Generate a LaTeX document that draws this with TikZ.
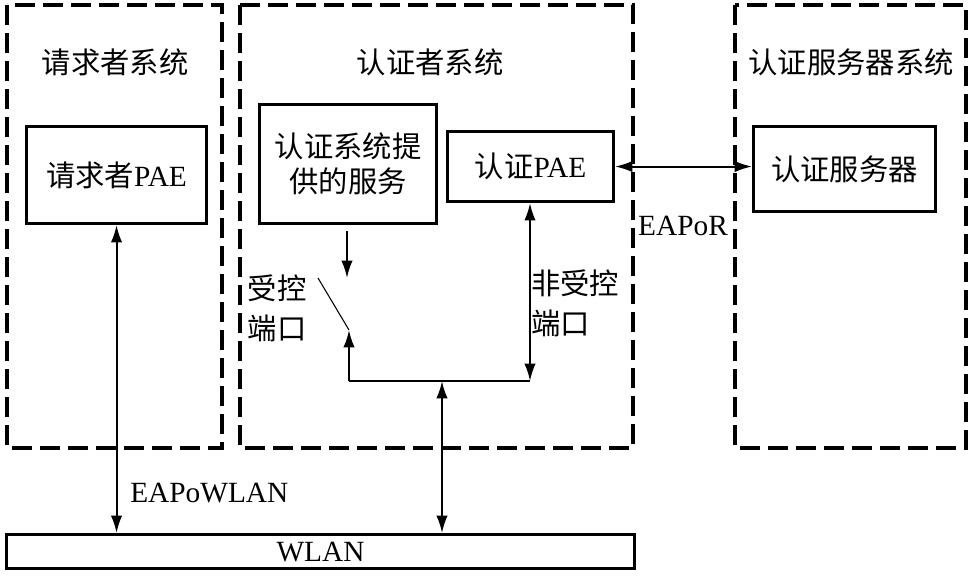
\documentclass[tikz,border=0pt]{standalone}
\usepackage{fontspec}
\setmainfont{Liberation Serif}
\newfontfamily\cjk{Noto Sans CJK SC}
\usetikzlibrary{arrows.meta}
\begin{document}
\begin{tikzpicture}[x=0.75pt,y=-0.75pt,
  dbox/.style={draw,line width=2.3pt,dash pattern=on 15pt off 6pt},
  sbox/.style={draw,line width=2.3pt,inner sep=0pt,anchor=north west},
  txt/.style={font=\fontsize{22}{28}\selectfont,inner sep=0pt,align=center},
  con/.style={line width=1.5pt},
  tip/.style={-{Latex[length=13pt,width=8.5pt]}},
  tips/.style={{Latex[length=13pt,width=8.5pt]}-{Latex[length=13pt,width=8.5pt]}}]
\useasboundingbox (0,0) rectangle (972,576);
% dashed system boxes
\draw[dbox] (7,5) rectangle (222,448);
\draw[dbox] (240,5) rectangle (633,448);
\draw[dbox] (735,5) rectangle (966,448);
\node[txt] (t1) at (115,62) {\cjk 请求者系统};
\node[txt] (t2) at (430,62) {\cjk 认证者系统};
\node[txt] (t3) at (851,62) {\cjk 认证服务器系统};
% boxes
\node[sbox,minimum width=180*0.75pt,minimum height=97*0.75pt] (sup) at (25,125) {};
\node[txt] at (sup.center) {{\cjk 请求者}PAE};
\node[sbox,minimum width=177*0.75pt,minimum height=119*0.75pt] (svc) at (258,103) {};
\node[txt] at (svc.center) {\cjk 认证系统提\\[-2pt]\cjk 供的服务};
\node[sbox,minimum width=166*0.75pt,minimum height=70*0.75pt] (pae) at (446,130) {};
\node[txt] at (pae.center) {{\cjk 认证}PAE};
\node[sbox,minimum width=182*0.75pt,minimum height=85*0.75pt] (srv) at (752,125) {};
\node[txt] at (srv.center) {\cjk 认证服务器};
\node[sbox,minimum width=628*0.75pt,minimum height=34*0.75pt] (wlan) at (5,533) {};
\node[txt] at (wlan.center) {WLAN};
% coordinates
\coordinate (c1) at (347,278);
\coordinate (sw) at (349,330);
\coordinate (sb) at (318,278);
\coordinate (j1) at (349,381);
\coordinate (j2) at (530,381);
\coordinate (j3) at (442,381);
% connectors
\draw[con,tips] (pae.east) -- (srv.west |- pae.east);
\node[txt,anchor=south] (eapor) at (683,236) {EAPoR};
\draw[con,tip] (svc.south -| c1) ++(0,6) -- (c1);
\draw[con,tip] (j1) -- (sw);
\draw[line width=0.8pt] (sb) -- (sw);
\draw[con] (j1) -- (j2);
\draw[con,tips] (j2) -- (pae.south -| j2);
\draw[con,tips] (j3) -- (wlan.north -| j3);
\draw[con,tips] (sup.south) -- (wlan.north -| sup.south);
\node[txt,align=left] (ctl) at (277,308) {\cjk 受控\\[2pt]\cjk 端口};
\node[txt,align=left] (uctl) at (575,303) {\cjk 非受控\\[2pt]\cjk 端口};
\node[txt,anchor=west] (eapw) at (130,493) {EAPoWLAN};
\end{tikzpicture}
\end{document}
